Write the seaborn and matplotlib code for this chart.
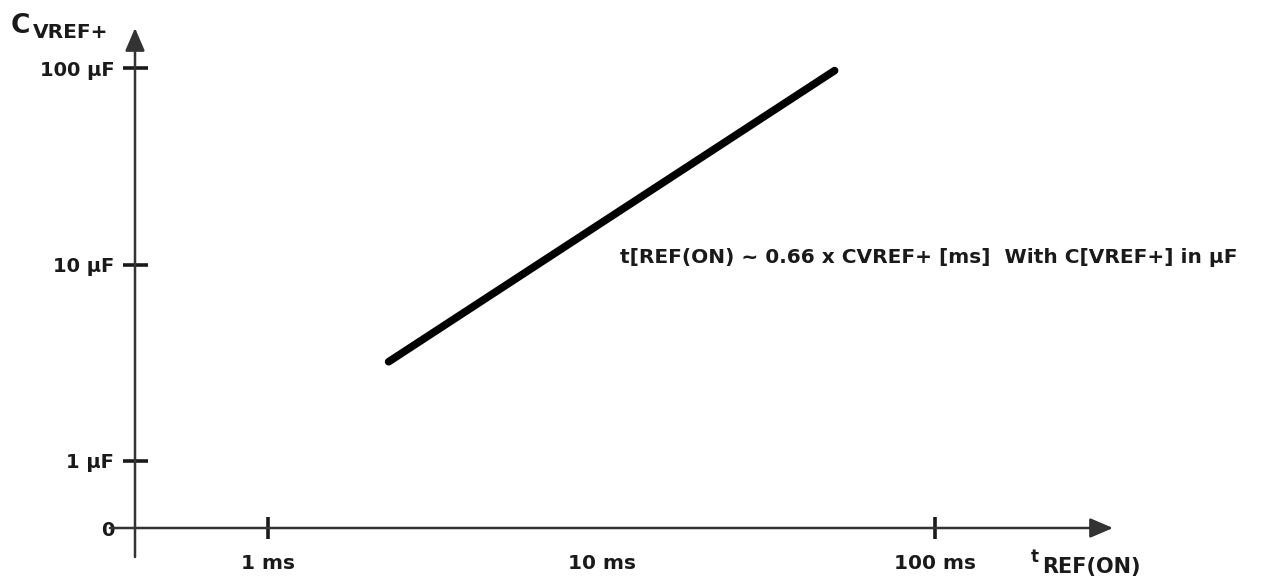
import matplotlib
matplotlib.use("Agg")
import matplotlib.pyplot as plt
import seaborn as sns
import pandas as pd

# Reference turn-on time vs. capacitor value (log-log)
t_ref_ms = [2.3, 50.0]
c_vref_uf = [3.2, 97.0]

y_tick_values = [1, 10, 100]
y_tick_labels = ["1 \u00b5F", "10 \u00b5F", "100 \u00b5F"]
x_tick_values = [1, 10, 100]
x_tick_labels = ["1 ms", "10 ms", "100 ms"]

sns.set_style("white")
plt.rcParams["font.family"] = ["DejaVu Sans"]
plt.rcParams["font.weight"] = "bold"

W, H = 1283, 579
fig = plt.figure(figsize=(W / 100, H / 100), dpi=100)

# axes box in pixel terms: left 135, right 1113, top 28, bottom 528
ax = fig.add_axes([135 / W, (H - 528) / H, (1113 - 135) / W, (528 - 28) / H])
ax.set_xscale("log")
ax.set_yscale("log")

# pixels per decade: x 333.5 (1 ms at 268), y 196.5 (1 uF at 461)
x_lo = 10 ** ((135 - 268) / 333.5)
x_hi = 10 ** ((1113 - 268) / 333.5)
y_lo = 10 ** (-(528 - 461) / 196.5)
y_hi = 10 ** ((461 - 28) / 196.5)
ax.set_xlim(x_lo, x_hi)
ax.set_ylim(y_lo, y_hi)

df = pd.DataFrame({"t": t_ref_ms, "c": c_vref_uf})
sns.lineplot(data=df, x="t", y="c", ax=ax, color="black", linewidth=5.5,
             solid_capstyle="round", legend=False)

for s in ax.spines.values():
    s.set_visible(False)
ax.set_xlabel("")
ax.set_ylabel("")

ink = "#1a1a1a"
axis_col = "#333333"

# axis lines with arrow heads
ax.annotate("", xy=(0, 1.0), xytext=(0, -0.058), xycoords="axes fraction",
            arrowprops=dict(arrowstyle="-|>,head_length=1.4,head_width=0.6",
                            color=axis_col, lw=1.8, shrinkA=0, shrinkB=0),
            annotation_clip=False)
ax.annotate("", xy=(1.0, 0), xytext=(-0.0256, 0), xycoords="axes fraction",
            arrowprops=dict(arrowstyle="-|>,head_length=1.4,head_width=0.6",
                            color=axis_col, lw=1.8, shrinkA=0, shrinkB=0),
            annotation_clip=False)

ax.set_yticks([y_lo] + y_tick_values)
ax.set_yticklabels(["0"] + y_tick_labels)
ax.set_xticks(x_tick_values)
ax.set_xticklabels(x_tick_labels)
ax.minorticks_off()

ax.tick_params(axis="y", left=True, direction="inout", length=18, width=2.6,
               color=ink, pad=6, labelsize=14, labelcolor=ink)
ax.tick_params(axis="x", bottom=True, direction="inout", length=16, width=2.6,
               color=ink, pad=11, labelsize=14.5, labelcolor=ink)
ax.yaxis.get_major_ticks()[0].tick1line.set_visible(False)
ax.xaxis.get_major_ticks()[1].tick1line.set_visible(False)
for lab in ax.get_xticklabels() + ax.get_yticklabels():
    lab.set_fontweight("bold")

# axis titles
fig.text(11 / W, 1 - 33 / H, "C", fontsize=19, fontweight="bold", color=ink,
         va="baseline", ha="left")
fig.text(33 / W, 1 - 38 / H, "VREF+", fontsize=14.5, fontweight="bold",
         color=ink, va="baseline", ha="left")
fig.text(1031 / W, 1 - 562 / H, "t", fontsize=12, fontweight="bold", color=ink,
         va="baseline", ha="left")
fig.text(1042 / W, 1 - 573 / H, "REF(ON)", fontsize=15, fontweight="bold",
         color=ink, va="baseline", ha="left")

# relation annotation
fig.text(620 / W, 1 - 263 / H,
         "t[REF(ON) ~ 0.66 x CVREF+ [ms]  With C[VREF+] in \u00b5F",
         fontsize=14.5, fontweight="bold", color=ink, va="baseline", ha="left")

fig.savefig("out.png", dpi=100)
